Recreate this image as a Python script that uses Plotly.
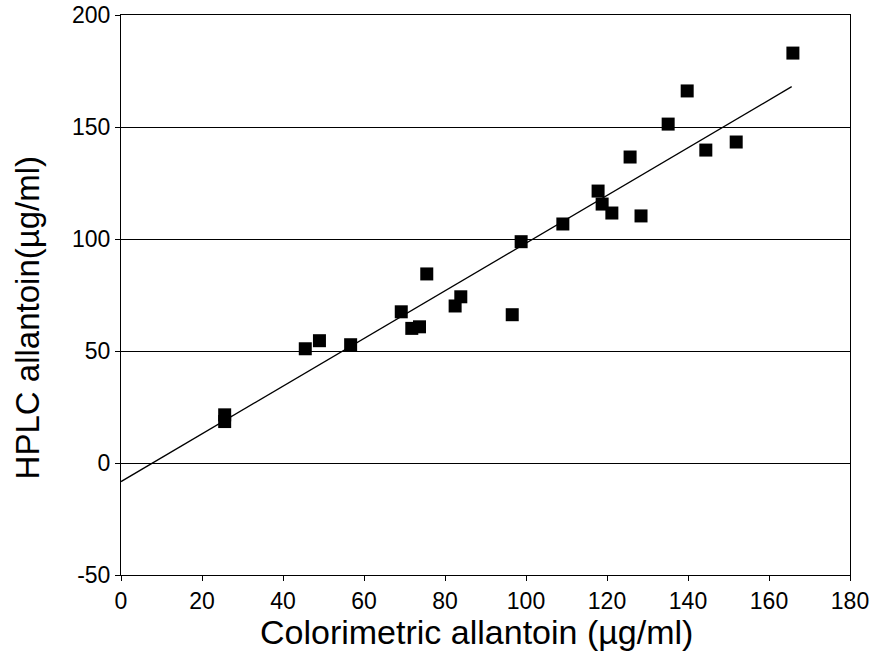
import plotly.graph_objects as go

# Data
colorimetric = [25.6, 25.6, 45.5, 49.0, 56.7, 69.2, 71.8, 73.7, 75.5, 82.5, 83.9,
                96.6, 98.8, 109.1, 117.8, 118.8, 121.2, 128.4, 125.7, 135.1,
                139.8, 144.4, 151.9, 165.9]
hplc = [21.5, 18.5, 51.0, 54.6, 52.8, 67.5, 60.1, 60.8, 84.4, 70.1, 74.2,
        66.2, 98.8, 106.7, 121.4, 115.6, 111.6, 110.3, 136.6, 151.3,
        166.1, 139.7, 143.3, 183.0]

# Regression line (endpoints)
fit_x = [0, 165.6]
fit_y = [-8.3, 168.0]

x_ticks = [0, 20, 40, 60, 80, 100, 120, 140, 160, 180]
y_ticks = [-50, 0, 50, 100, 150, 200]

x_title = "Colorimetric allantoin (µg/ml)"
y_title = "HPLC allantoin(µg/ml)"

FONT = "Liberation Sans, Arial, Helvetica, sans-serif"

fig = go.Figure()
fig.add_trace(go.Scatter(x=fit_x, y=fit_y, mode="lines",
                         line=dict(color="black", width=1.3),
                         showlegend=False, hoverinfo="skip"))
fig.add_trace(go.Scatter(x=colorimetric, y=hplc, mode="markers",
                         marker=dict(symbol="square", size=13, color="black",
                                     line=dict(width=0)),
                         showlegend=False))

fig.update_layout(
    width=875, height=653,
    margin=dict(l=121, r=25, t=15, b=78, autoexpand=False),
    paper_bgcolor="white", plot_bgcolor="white",
    font=dict(family=FONT, color="black", size=23),
    xaxis=dict(
        range=[0, 180], tickvals=x_ticks, ticktext=[str(v) for v in x_ticks],
        showgrid=False, zeroline=False, automargin=False,
        showline=True, linecolor="black", linewidth=1, mirror=True,
        ticks="outside", ticklen=5, tickcolor="black",
        tickfont=dict(size=23),
    ),
    yaxis=dict(
        range=[-50, 200], tickvals=y_ticks, ticktext=[str(v) for v in y_ticks],
        showgrid=True, gridcolor="black", gridwidth=1, zeroline=False, automargin=False,
        showline=True, linecolor="black", linewidth=1, mirror=True,
        ticks="outside", ticklen=5, tickcolor="black",
        tickfont=dict(size=23),
    ),
    annotations=[
        dict(text=y_title, textangle=-90, showarrow=False,
             xref="paper", yref="paper", x=-0.127, y=0.459,
             xanchor="center", yanchor="middle",
             font=dict(size=33, family=FONT, color="black")),
        dict(text=x_title, showarrow=False,
             xref="paper", yref="paper", x=0.488, y=-0.102,
             xanchor="center", yanchor="middle",
             font=dict(size=34, family=FONT, color="black")),
    ],
)

fig.write_html("out.html")
